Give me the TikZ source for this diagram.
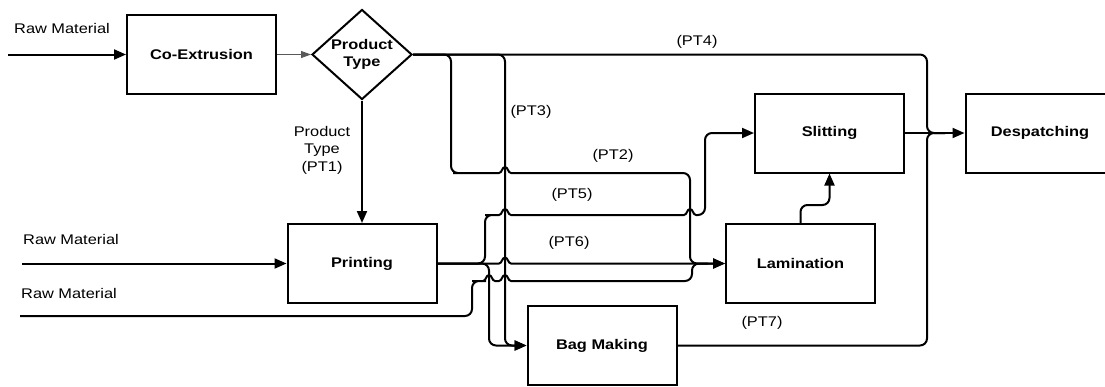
\documentclass[tikz,border=0pt]{standalone}
\usepackage{fontspec}
\setmainfont{Liberation Sans}[FakeStretch=1.17]
\usetikzlibrary{arrows.meta,shapes.geometric}
\newcommand{\hopover}[2]{[sharp corners] -- ({#1-6},#2) .. controls ({#1-3},#2) and ({#1-3},{#2-6}) .. (#1,{#2-6}) .. controls ({#1+3},{#2-6}) and ({#1+3},#2) .. ({#1+6},#2) -- ({#1+7},#2) [rounded corners=7pt]}
\begin{document}
\begin{tikzpicture}[x=1pt,y=-1pt,
  every node/.style={font=\fontsize{14}{17.5}\selectfont},
  box/.style={draw, line width=2pt, minimum width=149pt, minimum height=79pt, inner sep=0pt, font=\fontsize{14}{17.5}\selectfont\bfseries},
  decision/.style={draw, diamond, line width=2pt, minimum width=100pt, minimum height=90pt, aspect=1.11, inner sep=0pt, align=center, font=\fontsize{14}{17.5}\selectfont\bfseries},
  flow/.style={line width=2pt, rounded corners=7pt},
  arr/.style={-{Triangle[length=12pt,width=10pt]}},
  thinarr/.style={line width=1pt, draw=black!65, -{Triangle[length=10pt,width=7pt]}},
  lbl/.style={inner sep=0pt}
]
\clip (0,0) rectangle (1105,386);
% nodes
\node[box] (coex) at (201.5,54.5) {Co-Extrusion};
\node[decision] (pt) at (362,54.5) {Product\\Type};
\node[box] (print) at (362,263.5) {Printing};
\node[box] (bag) at (602,345.5) {Bag Making};
\node[box] (lam) at (800.5,263.5) {Lamination};
\node[box] (slit) at (829.5,133) {Slitting};
\node[box] (desp) at (1040,133) {Despatching};
% free ends
\coordinate (r1) at (8,54.5);
\coordinate (r2) at (22,263.5);
\coordinate (r3) at (20,316);
\coordinate (dj) at (945,133);
\coordinate (lj) at (708,263.5);
% labels
\node[lbl, anchor=west] (lr1) at (14,28) {Raw Material};
\node[lbl, anchor=west] (lr2) at (23,239) {Raw Material};
\node[lbl, anchor=west] (lr3) at (21,293) {Raw Material};
\node[lbl, align=center] (lpt1) at (322,150) {Product\\Type\\(PT1)};
\node[lbl] (lpt4) at (697,42) {(PT4)};
\node[lbl] (lpt3) at (531,112) {(PT3)};
\node[lbl] (lpt2) at (613,156) {(PT2)};
\node[lbl] (lpt5) at (572,195) {(PT5)};
\node[lbl] (lpt6) at (569,243) {(PT6)};
\node[lbl] (lpt7) at (762,323) {(PT7)};
% connectors
\draw[flow,arr] (r1) -- (coex.west);
\draw[thinarr] (coex.east) -- (pt.west);
\draw[flow,arr] (pt.south) -- (print.north);
\draw[flow] (pt.east) -- (927,54.5) -- (927,133) -- (dj);
\draw[flow,arr] (pt.east) -- (505,54.5) -- (505,345.5) -- (bag.west);
\draw[flow,arr] (pt.east) -- (451,54.5) -- (451,173) -- (460,173) \hopover{505}{173} -- (690,173) -- (690,263.5) -- (lam.west);
\draw[flow,arr] (print.east) -- (470,263.5) \hopover{505}{263.5} -- (lam.west);
\draw[flow,arr] (print.east) -- (485,263.5) -- (485,215) -- (492,215) \hopover{505}{215} \hopover{690}{215} -- (705,215) -- (705,133) -- (slit.west);
\draw[flow,arr] (print.east) -- (489,263.5) -- (489,345.5) -- (bag.west);
\draw[flow,arr] (r2) -- (print.west);
\draw[flow] (r3) -- (472,316) -- (472,281) -- (479,281) \hopover{489}{281} \hopover{505}{281} -- (692,281) -- (692,263.5) -- (lj);
\draw[flow,arr] (lam.north) -- (800.5,205) -- (829.5,205) -- (slit.south);
\draw[flow,arr] (slit.east) -- (desp.west);
\draw[flow] (bag.east) -- (927,345.5) -- (927,133) -- (dj);
\end{tikzpicture}
\end{document}
